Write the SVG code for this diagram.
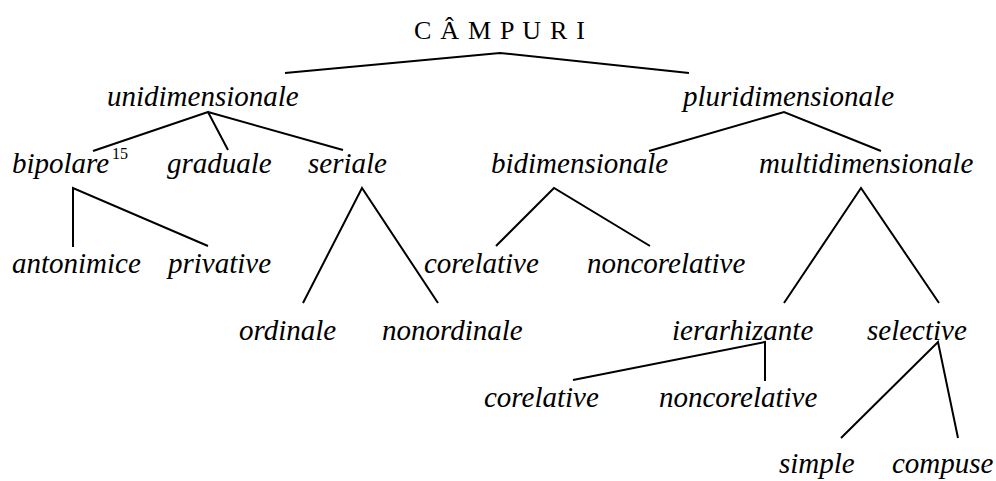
<svg xmlns="http://www.w3.org/2000/svg" width="996" height="481" viewBox="0 0 996 481">
<style>
.t{font-family:"Liberation Serif","Times New Roman",serif;font-style:italic;font-size:29px;fill:#000}
.h{font-family:"Liberation Serif","Times New Roman",serif;font-size:26px;letter-spacing:1.2px;fill:#000}
.s{font-family:"Liberation Serif","Times New Roman",serif;font-size:16px;fill:#000}
.e{stroke:#000;stroke-width:2;fill:none}
</style>
<rect width="996" height="481" fill="#fff"/>
<g id="edges">
<path class="e" d="M285,73 L500,53 L689,73"/>
<path class="e" d="M93,151 L208,112 L228,150 M208,112 L343,150"/>
<path class="e" d="M649,151 L784,112 L881,151"/>
<path class="e" d="M73,247 L73,188 L208,246"/>
<path class="e" d="M303,303 L362,188 L438,303"/>
<path class="e" d="M496,246 L554,188 L650,246"/>
<path class="e" d="M784,303 L861,188 L939,303"/>
<path class="e" d="M573,380 L765,342 L765,381"/>
<path class="e" d="M841,438 L938,342 L958,438"/>
</g>
<g id="n-campuri"><text class="h" x="414" y="39">C Â M P U R I</text></g>
<g id="n-unidimensionale"><text class="t" x="107" y="106">unidimensionale</text></g>
<g id="n-pluridimensionale"><text class="t" x="683" y="106">pluridimensionale</text></g>
<g id="n-bipolare"><text class="t" x="12" y="173">bipolare</text><text class="s" x="112" y="159">15</text></g>
<g id="n-graduale"><text class="t" x="167" y="173">graduale</text></g>
<g id="n-seriale"><text class="t" x="308" y="173">seriale</text></g>
<g id="n-bidimensionale"><text class="t" x="491" y="173">bidimensionale</text></g>
<g id="n-multidimensionale"><text class="t" x="759" y="173">multidimensionale</text></g>
<g id="n-antonimice"><text class="t" x="12" y="273">antonimice</text></g>
<g id="n-privative"><text class="t" x="168" y="273">privative</text></g>
<g id="n-corelative1"><text class="t" x="424" y="273">corelative</text></g>
<g id="n-noncorelative1"><text class="t" x="587" y="273">noncorelative</text></g>
<g id="n-ordinale"><text class="t" x="239" y="340">ordinale</text></g>
<g id="n-nonordinale"><text class="t" x="382" y="340">nonordinale</text></g>
<g id="n-ierarhizante"><text class="t" x="672" y="340">ierarhizante</text></g>
<g id="n-selective"><text class="t" x="867" y="340">selective</text></g>
<g id="n-corelative2"><text class="t" x="484" y="407">corelative</text></g>
<g id="n-noncorelative2"><text class="t" x="659" y="407">noncorelative</text></g>
<g id="n-simple"><text class="t" x="779" y="473">simple</text></g>
<g id="n-compuse"><text class="t" x="892" y="473">compuse</text></g>
</svg>
